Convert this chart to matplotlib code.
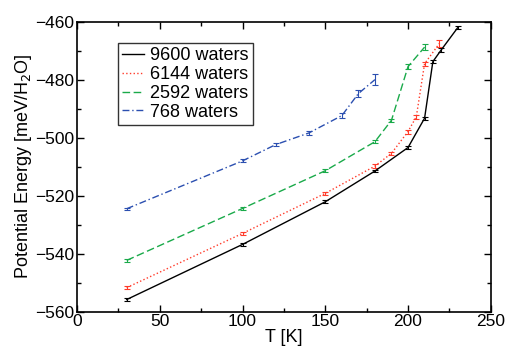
import matplotlib
matplotlib.use('Agg')
import matplotlib.pyplot as plt
from matplotlib.lines import Line2D
from matplotlib.ticker import MultipleLocator

plt.rcParams['font.family'] = ['Liberation Sans', 'DejaVu Sans']

# data
t_9600 = [30, 100, 150, 180, 200, 210, 215, 220, 230]
e_9600 = [-555.8, -536.8, -522.1, -511.5, -503.4, -493.3, -473.8, -469.8, -462.1]
err_9600 = [0.4, 0.4, 0.5, 0.5, 0.5, 0.5, 0.6, 0.6, 0.6]

t_6144 = [30, 100, 150, 180, 190, 200, 205, 210, 219]
e_6144 = [-551.7, -533.0, -519.2, -509.8, -505.4, -497.9, -492.8, -474.5, -467.5]
err_6144 = [0.4, 0.5, 0.5, 0.6, 0.6, 0.7, 0.7, 0.7, 1.3]

t_2592 = [30, 100, 150, 180, 190, 200, 210]
e_2592 = [-542.3, -524.4, -511.4, -501.4, -494.0, -475.5, -468.8]
err_2592 = [0.4, 0.4, 0.5, 0.6, 0.6, 0.8, 1.0]

t_768 = [30, 100, 120, 140, 160, 170, 180]
e_768 = [-524.5, -508.0, -502.4, -498.4, -492.4, -484.8, -480.0]
err_768 = [0.4, 0.5, 0.6, 0.6, 0.8, 1.2, 1.8]

fig = plt.figure(figsize=(5.07, 3.47), dpi=100)
ax = fig.add_axes([0.152, 0.1017, 0.816, 0.836])

series = [
    (t_9600, e_9600, err_9600, '9600 waters', 'black', '-'),
    (t_6144, e_6144, err_6144, '6144 waters', '#ff3b2a', ':'),
    (t_2592, e_2592, err_2592, '2592 waters', '#1aaa4a', (0, (5.5, 2.5))),
    (t_768, e_768, err_768, '768 waters', '#2b4fb0', (0, (5, 2, 1, 2))),
]
handles = []
for t, e, err, lab, col, ls in series:
    ax.errorbar(t, e, yerr=err, color=col, linestyle=ls, linewidth=1.0,
                elinewidth=0.8, capsize=2.2, capthick=0.8)
    handles.append(Line2D([], [], color=col, linestyle=ls, linewidth=1.0, label=lab))

ax.set_xlim(0, 250)
ax.set_ylim(-560, -460)
ax.xaxis.set_major_locator(MultipleLocator(50))
ax.xaxis.set_minor_locator(MultipleLocator(25))
ax.yaxis.set_major_locator(MultipleLocator(20))
ax.yaxis.set_minor_locator(MultipleLocator(10))
ax.tick_params(which='both', direction='in', top=True, right=True, labelsize=12.5)
ax.tick_params(which='major', length=5, width=1, pad=2)
ax.tick_params(which='minor', length=3, width=1)
for s in ax.spines.values():
    s.set_linewidth(1.2)

ax.set_xlabel('T [K]', fontsize=13, labelpad=0)
ax.set_ylabel('Potential Energy [meV/H$_2$O]', fontsize=13, labelpad=1)

leg = ax.legend(handles=handles, loc='upper left', bbox_to_anchor=(0.098, 0.927),
                fontsize=13, frameon=True, fancybox=False, edgecolor='black',
                handlelength=1.2, handletextpad=0.35, borderpad=0.25,
                labelspacing=0.1, borderaxespad=0)
leg.get_frame().set_linewidth(1.0)

fig.savefig('out.png', dpi=100, facecolor='white')
